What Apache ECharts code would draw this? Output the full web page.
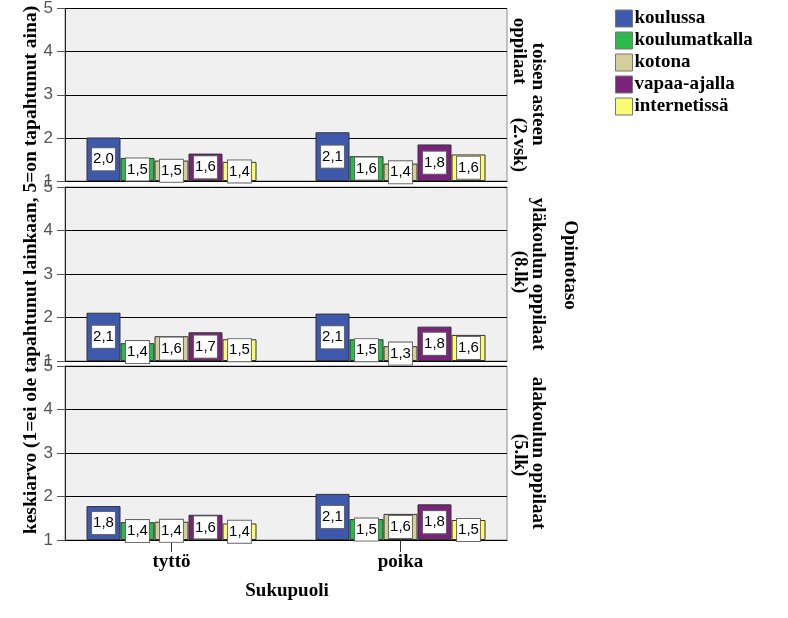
<!DOCTYPE html>
<html>
<head>
<meta charset="utf-8">
<script src="https://cdn.jsdelivr.net/npm/echarts@6/dist/echarts.min.js"></script>
<style>html,body{margin:0;padding:0;background:#fff;}#c{width:788px;height:618px;}</style>
</head>
<body>
<div id="c"></div>
<script>
// ---- data ----
const categories = ['tyttö', 'poika'];
const seriesNames = ['koulussa', 'koulumatkalla', 'kotona', 'vapaa-ajalla', 'internetissä'];
const yTicks = [1, 2, 3, 4, 5];
// rows: panel 1 (toisen asteen), panel 2 (yläkoulu), panel 3 (alakoulu); columns: tyttö, poika
const koulussa      = [[2.00, 2.12], [2.11, 2.09], [1.78, 2.06]];
const koulumatkalla = [[1.53, 1.57], [1.41, 1.50], [1.41, 1.48]];
const kotona        = [[1.47, 1.40], [1.57, 1.34], [1.42, 1.60]];
const vapaaAjalla   = [[1.63, 1.84], [1.66, 1.79], [1.58, 1.82]];
const internetissa  = [[1.44, 1.61], [1.50, 1.60], [1.38, 1.46]];
const panelLines = [
  ['toisen asteen', 'oppilaat', '(2.vsk)'],
  ['yläkoulun oppilaat', '(8.lk)'],
  ['alakoulun oppilaat', '(5.lk)']
];

// ---- styling / layout ----
const colors = ['#3E58AC', '#2DB94C', '#D4CE9A', '#7A237A', '#FAFA73'];
const seriesValues = [koulussa, koulumatkalla, kotona, vapaaAjalla, internetissa];
const panelTops = [7, 187, 366];
const panelH = 174;
const serif = "'Liberation Serif', 'Times New Roman', serif";
const sans = "'Liberation Sans', Arial, sans-serif";
const yMin = yTicks[0], yMax = yTicks[yTicks.length - 1];

const grid = [], xAxis = [], yAxis = [], series = [];
panelTops.forEach((top, p) => {
  const gA = grid.length;
  grid.push({left: 65, width: 442, top: top, height: panelH, show: true,
    backgroundColor: '#F0F0F0', borderColor: '#8c8c8c', borderWidth: 1});
  const gB = grid.length;
  grid.push({left: 57, width: 458, top: top, height: panelH});
  const isLast = p === panelTops.length - 1;
  xAxis.push({type: 'category', data: categories, gridIndex: gA,
    axisLine: {show: true, lineStyle: {color: '#000', width: 1}},
    axisTick: {show: false}, axisLabel: {show: false}});
  xAxis.push({type: 'category', data: categories, gridIndex: gB,
    axisLine: {show: false},
    axisTick: {show: isLast, alignWithLabel: true, length: 12, lineStyle: {color: '#333'}},
    axisLabel: {show: isLast, margin: 13, color: '#000', fontFamily: serif, fontWeight: 'bold', fontSize: 19}});
  yAxis.push({type: 'value', gridIndex: gA, min: yMin, max: yMax, interval: 1,
    axisLine: {show: true, lineStyle: {color: '#222'}},
    axisTick: {show: true, length: 8, lineStyle: {color: '#555'}},
    axisLabel: {margin: 12, color: '#555', fontFamily: sans, fontSize: 17},
    splitLine: {show: true, lineStyle: {color: '#000', width: 1}}});
  yAxis.push({type: 'value', gridIndex: gB, min: yMin, max: yMax, interval: 1, show: false,
    splitLine: {show: false}});
  seriesNames.forEach((name, s) => {
    const vals = seriesValues[s][p];
    const stack = 'p' + p + 's' + s;
    series.push({type: 'bar', name: '_base', xAxisIndex: gB, yAxisIndex: gB, stack: stack,
      data: vals.map(() => yMin), barWidth: 34, barGap: '0%', silent: true,
      itemStyle: {color: 'transparent'}, label: {show: false}});
    series.push({type: 'bar', name: name, xAxisIndex: gB, yAxisIndex: gB, stack: stack,
      data: vals.map(v => v - yMin), barWidth: 34, barGap: '0%',
      itemStyle: {color: colors[s], borderColor: '#333', borderWidth: 1},
      label: {show: true, position: 'inside',
        formatter: (prm) => vals[prm.dataIndex].toFixed(1).replace('.', ','),
        color: '#000', fontFamily: sans, fontSize: 15, lineHeight: 17,
        backgroundColor: '#fff', borderColor: '#666', borderWidth: 1, padding: [3, 1, 2, 1]}});
  });
});

const graphic = [];
const rotText = (text, x, y, rot) => ({type: 'text', x: x, y: y, rotation: rot,
  style: {text: text, x: 0, y: 0, align: 'center', verticalAlign: 'middle',
    font: 'bold 19px ' + serif, fill: '#000'}});
// y axis title
graphic.push({type: 'text', x: 31, y: 270, rotation: Math.PI / 2,
  style: {text: 'keskiarvo (1=ei ole tapahtunut lainkaan, 5=on tapahtunut aina)', x: 0, y: 0,
    align: 'center', verticalAlign: 'middle', font: 'bold 19.5px ' + serif, fill: '#000'}});
// panel strip labels
const cw = -Math.PI / 2;
graphic.push(rotText(panelLines[0][0], 538, 94, cw));
graphic.push(rotText(panelLines[0][1], 519, 51, cw));
graphic.push(rotText(panelLines[0][2], 519, 145, cw));
graphic.push(rotText(panelLines[1][0], 538, 274, cw));
graphic.push(rotText(panelLines[1][1], 520, 272, cw));
graphic.push(rotText(panelLines[2][0], 538, 453, cw));
graphic.push(rotText(panelLines[2][1], 520, 455, cw));
graphic.push(rotText('Opintotaso', 570, 265, cw));
// x axis title
graphic.push(rotText('Sukupuoli', 287, 591, 0));

const chart = echarts.init(document.getElementById('c'), null, {renderer: 'canvas'});
chart.setOption({
  animation: false,
  grid: grid, xAxis: xAxis, yAxis: yAxis, series: series, graphic: graphic,
  legend: {orient: 'vertical', left: 615, top: 9, padding: 0, itemGap: 3,
    itemWidth: 17, itemHeight: 17, icon: 'rect', data: seriesNames,
    itemStyle: {borderColor: '#777', borderWidth: 1},
    textStyle: {color: '#000', fontFamily: serif, fontWeight: 'bold', fontSize: 19, padding: [0, 0, 0, -3]}}
});
</script>
</body>
</html>
